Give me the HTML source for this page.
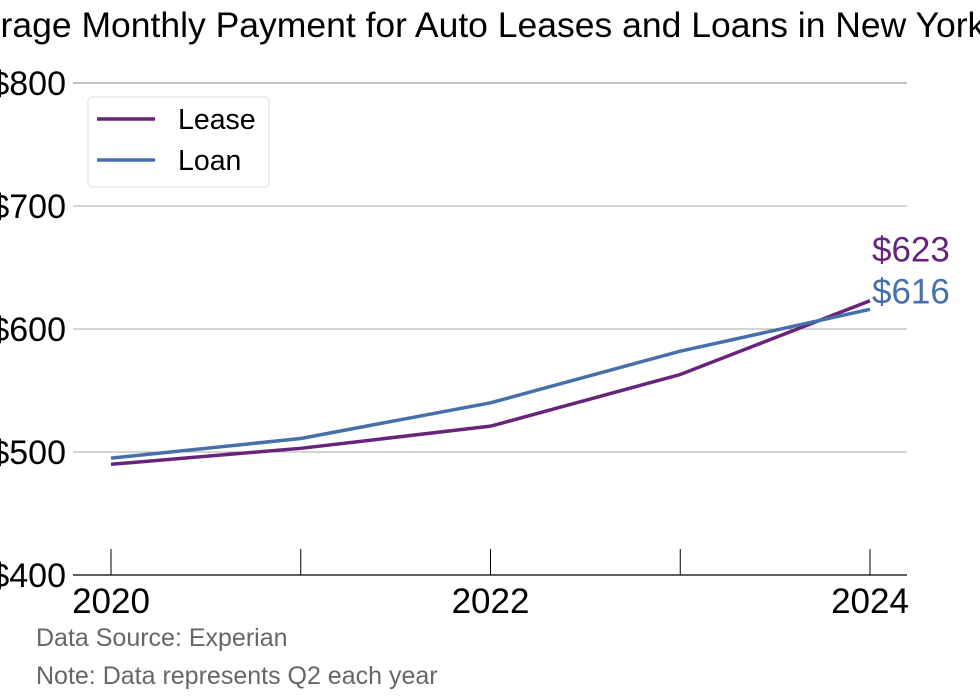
<!DOCTYPE html>
<html><head><meta charset="utf-8"><style>
html,body{margin:0;padding:0;background:#fff;}
svg{display:block;font-family:"Liberation Sans",sans-serif;}
</style></head><body>
<svg id="chart" width="980" height="699" viewBox="0 0 980 699">
<text x="-60" y="37" font-size="35.5" fill="#000">Average Monthly Payment for Auto Leases and Loans in New York</text>
<g id="grid"></g>
<g id="series"></g>
<g>
<rect x="88" y="97" width="181" height="90" rx="4" fill="#fff" stroke="#ddd"/>
<line x1="97" y1="119" x2="155" y2="119" stroke="#68237a" stroke-width="3.5"/>
<text x="178" y="129" font-size="28.5">Lease</text>
<line x1="97" y1="160" x2="155" y2="160" stroke="#4670ab" stroke-width="3.5"/>
<text x="178" y="170" font-size="28.5">Loan</text>
</g>
<text x="36" y="646" font-size="25" fill="#666">Data Source: Experian</text>
<text x="36" y="684" font-size="25" fill="#666">Note: Data represents Q2 each year</text>
</svg>
<script>
const years=[2020,2021,2022,2023,2024];
const lease=[490,503,521,563,623];
const loan=[495,511,540,582,616];
const yTicks=[400,500,600,700,800];
const xLabels=[2020,2022,2024];
const NS="http://www.w3.org/2000/svg";
function x(v){return 111+(v-2020)*189.75;}
function y(v){return 575-(v-400)*1.23;}
function mk(t,a,p){const e=document.createElementNS(NS,t);for(const k in a)e.setAttribute(k,a[k]);p.appendChild(e);return e;}
const g=document.getElementById('grid');
yTicks.forEach(v=>{
 if(v>400){const l=mk('line',{x1:73,x2:907,y1:y(v),y2:y(v),stroke:v==800?'#888':'#aaa','stroke-width':1},g);
 
 }
 const t=mk('text',{x:66,y:y(v)+12,'font-size':34,'text-anchor':'end'},g);t.textContent='$'+v;
 
 
});
const ax=mk('line',{x1:73,x2:907,y1:575,y2:575,stroke:'#000','stroke-width':1.2},g);


years.forEach(v=>{const l=mk('line',{x1:x(v),x2:x(v),y1:549,y2:575,stroke:'#000'},g);
 
 });
xLabels.forEach(v=>{const t=mk('text',{x:x(v),y:613,'font-size':35,'text-anchor':'middle'},g);t.textContent=v;
 
 });
const s=document.getElementById('series');
[[lease,'#68237a','lease',-39],[loan,'#4670ab','loan',-6]].forEach(([d,c,n,dy])=>{
 const p=mk('polyline',{points:d.map((v,i)=>x(years[i])+','+y(v)).join(' '),fill:'none',stroke:c,'stroke-width':3.5},s);
 
 
 const last=d[d.length-1];
 const t=mk('text',{x:872,y:y(last)+dy,'font-size':35,fill:c},s);t.textContent='$'+last;
 
 
});
</script>
</body></html>
